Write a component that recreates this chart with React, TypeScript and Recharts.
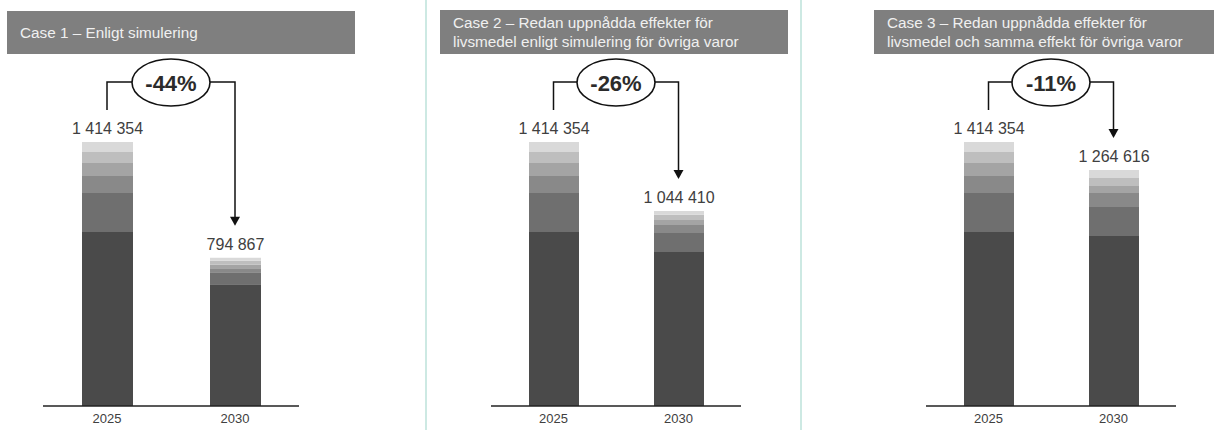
import { BarChart, Bar, XAxis, YAxis, LabelList, ReferenceLine } from 'recharts';

const years = ['2025', '2030'];
const segmentKeys = ['s1', 's2', 's3', 's4', 's5', 's6'];
const segmentColors = ['#4a4a4a', '#6f6f6f', '#898989', '#a4a4a4', '#bebebe', '#d9d9d9'];

// stacked segments, bottom to top
const values2025 = [932000, 209000, 91000, 70000, 59000, 53354];
const case1Values2030 = [652000, 64000, 22000, 19000, 21000, 16867];
const case2Values2030 = [825000, 102000, 43000, 27000, 27000, 20410];
const case3Values2030 = [911000, 155000, 75000, 37000, 43000, 43616];

const caseTitles = [
  ['Case 1 – Enligt simulering'],
  ['Case 2 – Redan uppnådda effekter för', 'livsmedel enligt simulering för övriga varor'],
  ['Case 3 – Redan uppnådda effekter för', 'livsmedel och samma effekt för övriga varor'],
];

const caseValues = [case1Values2030, case2Values2030, case3Values2030];

const sum = (arr: number[]) => arr.reduce((a, b) => a + b, 0);

function buildRows(v2030: number[]) {
  return years.map((year, i) => {
    const vals = i === 0 ? values2025 : v2030;
    const row: Record<string, string | number> = { year, total: sum(vals) };
    segmentKeys.forEach((k, j) => (row[k] = vals[j]));
    return row;
  });
}

// thousands separated by a no-break space so the label stays on one line
const fmt = (v: any) => String(Math.round(Number(v))).replace(/\B(?=(\d{3})+(?!\d))/g, '\u00A0');

const panels = [
  { left: 0, width: 420, mLeft: 43, mRight: 121, barSize: 51, header: { left: 7, top: 11, width: 348, height: 43 } },
  { left: 420, width: 400, mLeft: 71, mRight: 79, barSize: 50, header: { left: 440, top: 10, width: 348, height: 44 } },
  { left: 820, width: 394, mLeft: 106, mRight: 38, barSize: 50, header: { left: 874, top: 10, width: 340, height: 44 } },
];

function Bracket(props: any) {
  const { x1, y1, x2, y2, pct } = props;
  if (x1 == null) return null;
  const yH = y1 - 60;
  const gap = 32;
  const cx = (x1 + x2) / 2;
  const rx = 39;
  const ry = 23.5;
  const tip = y2 - gap;
  return (
    <g>
      <polyline points={`${x1},${y1 - gap} ${x1},${yH} ${cx - rx},${yH}`} fill="none" stroke="#111" strokeWidth={1.5} />
      <polyline points={`${cx + rx},${yH} ${x2},${yH} ${x2},${tip - 8}`} fill="none" stroke="#111" strokeWidth={1.5} />
      <polygon points={`${x2 - 5},${tip - 9} ${x2 + 5},${tip - 9} ${x2},${tip}`} fill="#111" />
      <ellipse cx={cx} cy={yH + 0.5} rx={rx} ry={ry} fill="#fff" stroke="#111" strokeWidth={1.6} />
      <text x={cx} y={yH + 1} textAnchor="middle" dominantBaseline="central" fontSize={22} fontWeight="bold" fill="#2b2b2b">
        {pct}
      </text>
    </g>
  );
}

export default function App() {
  return (
    <div
      style={{
        position: 'fixed',
        left: 0,
        top: 0,
        width: 1214,
        height: 430,
        background: '#fff',
        fontFamily: '"Liberation Sans", Arial, sans-serif',
        overflow: 'hidden',
      }}
    >
      <div style={{ position: 'absolute', left: 425, top: 0, width: 2, height: 430, background: '#cde9e3' }} />
      <div style={{ position: 'absolute', left: 800, top: 0, width: 2, height: 430, background: '#cde9e3' }} />
      {panels.map((p, i) => {
        const rows = buildRows(caseValues[i]);
        const t0 = rows[0].total as number;
        const t1 = rows[1].total as number;
        const pct = `${Math.round((t1 / t0 - 1) * 100)}%`;
        const maxTotal = Math.max(t0, t1);
        return (
          <div key={i}>
            <div
              style={{
                position: 'absolute',
                left: p.header.left,
                top: p.header.top,
                width: p.header.width,
                height: p.header.height,
                background: '#7f7f7f',
                color: '#f0f0f0',
                fontSize: 15.3,
                lineHeight: '19px',
                display: 'flex',
                flexDirection: 'column',
                justifyContent: 'center',
                paddingLeft: 13,
                boxSizing: 'border-box',
                whiteSpace: 'nowrap',
              }}
            >
              {caseTitles[i].map((line) => (
                <div key={line}>{line}</div>
              ))}
            </div>
            <div style={{ position: 'absolute', left: p.left, top: 0 }}>
              <BarChart
                width={p.width}
                height={430}
                data={rows}
                margin={{ top: 142, left: p.mLeft, right: p.mRight, bottom: 4 }}
                barSize={p.barSize}
              >
                <XAxis
                  dataKey="year"
                  height={20}
                  tickLine={false}
                  axisLine={{ stroke: '#222', strokeWidth: 1.5 }}
                  tick={{ fill: '#404040', fontSize: 13 }}
                />
                <YAxis hide domain={[0, maxTotal]} />
                {segmentKeys.map((k, j) => (
                  <Bar key={k} dataKey={k} stackId="a" fill={segmentColors[j]} isAnimationActive={false}>
                    {j === segmentKeys.length - 1 && (
                      <LabelList dataKey="total" position="top" offset={8} formatter={fmt} fill="#404040" fontSize={16} />
                    )}
                  </Bar>
                ))}
                <ReferenceLine
                  segment={[
                    { x: years[0], y: t0 },
                    { x: years[1], y: t1 },
                  ]}
                  shape={(sp: any) => <Bracket {...sp} pct={pct} />}
                />
              </BarChart>
            </div>
          </div>
        );
      })}
    </div>
  );
}
